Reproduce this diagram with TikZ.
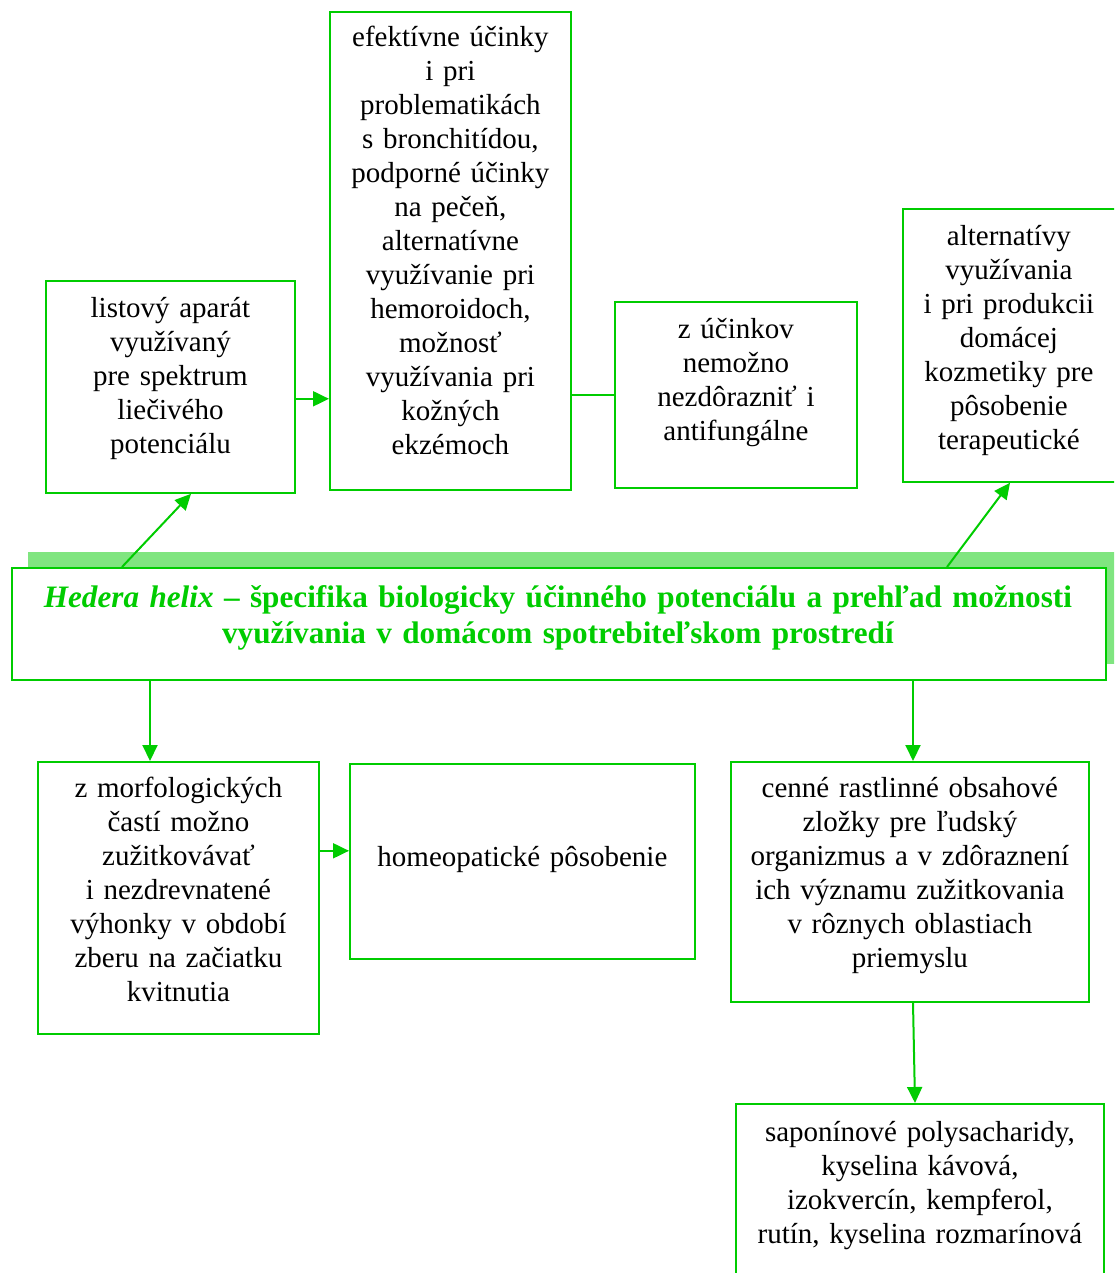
\documentclass[tikz,border=0pt]{standalone}
\usepackage{fontspec}
\setmainfont{Liberation Serif}
\usetikzlibrary{arrows.meta,calc,shadows}
\definecolor{gr}{RGB}{0,204,0}
\definecolor{shc}{RGB}{128,229,128}
\begin{document}
\begin{tikzpicture}[x=1pt,y=-1pt,
 box/.style={draw=gr,line width=1.8pt,inner sep=0pt,anchor=north west},
 txt/.style={inner sep=0pt,align=center,anchor=base,font=\fontsize{29}{34}\selectfont},
 arr/.style={draw=gr,line width=2pt,-{Triangle[length=16pt,width=15pt]}},
 ln/.style={draw=gr,line width=2pt}]
\useasboundingbox (0,0) rectangle (1114,1273);
\clip (0,0) rectangle (1114,1273);
% boxes
\node[box,minimum width=249pt,minimum height=212pt] (b1) at (45,280) {};
\node[box,minimum width=241pt,minimum height=478pt] (b2) at (329,11) {};
\node[box,minimum width=242pt,minimum height=186pt] (b3) at (614,301) {};
\node[box,minimum width=214pt,minimum height=273pt] (b4) at (902,208) {};
\node[box,minimum width=281pt,minimum height=272pt] (b5) at (37,761) {};
\node[box,minimum width=345pt,minimum height=195pt] (b6) at (349,763) {};
\node[box,minimum width=358pt,minimum height=240pt] (b7) at (730,761) {};
\node[box,minimum width=368pt,minimum height=185pt] (b8) at (735,1103) {};
\node[box,minimum width=1094pt,minimum height=112pt,fill=white,
  drop shadow={shadow xshift=16pt,shadow yshift=16pt,fill=shc,opacity=1}] (main) at (11,567) {};
% texts
\node[txt,text width=240pt] (t1) at ($(b1.north)+(0,37)$) {listový aparát\\využívaný\\pre spektrum\\liečivého\\potenciálu};
\node[txt,text width=236pt] (t2) at ($(b2.north)+(0,36)$) {efektívne účinky\\i pri\\problematikách\\s bronchitídou,\\podporné účinky\\na pečeň,\\alternatívne\\využívanie pri\\hemoroidoch,\\možnosť\\využívania pri\\kožných\\ekzémoch};
\node[txt,text width=236pt] (t3) at ($(b3.north)+(0,37)$) {z účinkov\\nemožno\\nezdôrazniť i\\antifungálne};
\node[txt,text width=206pt] (t4) at ($(b4.north)+(-1,37)$) {alternatívy\\využívania\\i pri produkcii\\domácej\\kozmetiky pre\\pôsobenie\\terapeutické};
\node[txt,text width=276pt] (t5) at ($(b5.north)+(0,36)$) {z morfologických\\častí možno\\zužitkovávať\\i nezdrevnatené\\výhonky v období\\zberu na začiatku\\kvitnutia};
\node[txt,text width=340pt] (t6) at ($(b6.north)+(0,103)$) {homeopatické pôsobenie};
\node[txt,text width=352pt] (t7) at ($(b7.north)+(0,36)$) {cenné rastlinné obsahové\\zložky pre ľudský\\organizmus a v zdôraznení\\ich významu zužitkovania\\v rôznych oblastiach\\priemyslu};
\node[txt,text width=362pt] (t8) at ($(b8.north)+(0,38)$) {saponínové polysacharidy,\\kyselina kávová,\\izokvercín, kempferol,\\rutín, kyselina rozmarínová};
\node[txt,text width=1090pt,text=gr,font=\fontsize{31.2}{36}\selectfont\bfseries] (title) at ($(main.north)+(-1,40)$)
 {\textit{Hedera helix} – špecifika biologicky účinného potenciálu a prehľad možnosti\\využívania v domácom spotrebiteľskom prostredí};
% connector ends
\coordinate (c1) at ($(b1.south east)+(0,-95)$);
\coordinate (c2) at ($(b2.south east)+(0,-96)$);
\coordinate (c3) at ($(main.south west)+(139,0)$);
\coordinate (c4) at ($(b5.south east)+(0,-184)$);
\coordinate (c5) at ($(main.south west)+(902,0)$);
% connectors
\draw[arr] ($(main.north west)+(111,0)$) -- ($(b1.south west)+(146,0)$);
\draw[arr] (c1) -- (c1 -| b2.west);
\draw[ln] (c2) -- (c2 -| b3.west);
\draw[arr] ($(main.north west)+(936,0)$) -- ($(b4.south west)+(108,0)$);
\draw[arr] (c3) -- (c3 |- b5.north);
\draw[arr] (c4) -- (c4 -| b6.west);
\draw[arr] (c5) -- (c5 |- b7.north);
\draw[arr] ($(b7.south west)+(183,0)$) -- ($(b8.north west)+(180,0)$);
\end{tikzpicture}
\end{document}
